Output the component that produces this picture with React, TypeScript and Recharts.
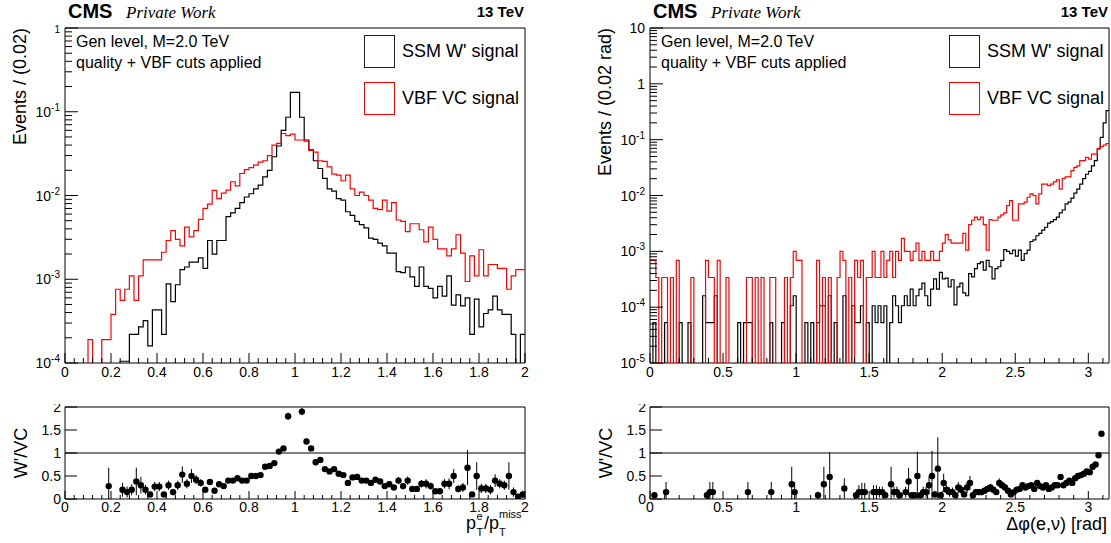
import React from 'react';
import {
  ComposedChart,
  Line,
  Scatter,
  ErrorBar,
  XAxis,
  YAxis,
  ReferenceArea,
  ReferenceLine,
  Legend,
} from 'recharts';

const FONT = '"Liberation Sans", Arial, Helvetica, sans-serif';
const SERIF = '"Liberation Serif", "Times New Roman", serif';

// ---- p_T^e / p_T^miss : 100 bins of 0.02 on [0, 2] ----
const ptBinWidth = 0.02;
const ptSsm = [
  0, 0, 0, 0, 0, 0, 0, 0, 0, 0,
  0, 0, 1.05e-4, 1.05e-4, 2.2e-4, 2.2e-4, 2.7e-4, 3.2e-4, 1.6e-4, 4.3e-4,
  4.3e-4, 2.2e-4, 8.8e-4, 5.4e-4, 8.6e-4, 1.3e-3, 1.4e-3, 1.6e-3, 1.6e-3, 1.8e-3,
  1.35e-3, 2.9e-3, 2.0e-3, 2.9e-3, 2.9e-3, 5.6e-3, 6.2e-3, 7.0e-3, 8.2e-3, 9.6e-3,
  1.05e-2, 1.2e-2, 1.33e-2, 1.67e-2, 2.0e-2, 2.9e-2, 3.9e-2, 6.0e-2, 8.6e-2, 0.17,
  0.17, 8.6e-2, 4.6e-2, 3.5e-2, 2.6e-2, 2.1e-2, 1.6e-2, 1.2e-2, 1.13e-2, 9.2e-3,
  8.8e-3, 6.4e-3, 5.8e-3, 4.9e-3, 4.5e-3, 4.1e-3, 3.1e-3, 3.0e-3, 2.7e-3, 2.5e-3,
  2.05e-3, 2.05e-3, 1.23e-3, 1.2e-3, 1.4e-3, 1.07e-3, 8.2e-4, 1.4e-3, 8.2e-4, 7.8e-4,
  6.0e-4, 8.2e-4, 6.3e-4, 1.1e-3, 4.9e-4, 6.5e-4, 4.8e-4, 6.0e-4, 2.2e-4, 5.8e-4,
  2.7e-4, 3.9e-4, 4.3e-4, 6.3e-4, 4.3e-4, 3.8e-4, 3.8e-4, 2.2e-4, 0, 2.2e-4,
];
const ptVc = [
  0, 0, 0, 0, 0, 1.9e-4, 0, 0, 1.9e-4, 1.9e-4,
  3.8e-4, 7.6e-4, 5.6e-4, 7.6e-4, 1.1e-3, 5.6e-4, 1.1e-3, 1.7e-3, 1.7e-3, 1.7e-3,
  1.7e-3, 2.1e-3, 2.9e-3, 3.8e-3, 3.0e-3, 2.5e-3, 4.2e-3, 3.2e-3, 3.8e-3, 5.2e-3,
  7.0e-3, 7.9e-3, 1.15e-2, 9.2e-3, 1.07e-2, 1.16e-2, 1.46e-2, 1.3e-2, 1.83e-2, 2.04e-2,
  2.15e-2, 2.3e-2, 2.5e-2, 2.6e-2, 3.0e-2, 4.0e-2, 4.2e-2, 5.5e-2, 5.2e-2, 5.4e-2,
  4.6e-2, 4.6e-2, 4.45e-2, 3.45e-2, 3.3e-2, 2.6e-2, 2.55e-2, 2.2e-2, 1.8e-2, 1.75e-2,
  1.5e-2, 1.75e-2, 1.2e-2, 1.0e-2, 1.1e-2, 1.0e-2, 8.8e-3, 7.0e-3, 6.8e-3, 8.8e-3,
  6.5e-3, 8.2e-3, 5.1e-3, 4.9e-3, 3.7e-3, 4.6e-3, 4.6e-3, 3.9e-3, 2.8e-3, 4.2e-3,
  3.0e-3, 2.3e-3, 2.3e-3, 1.9e-3, 2.3e-3, 3.4e-3, 2.05e-3, 9.4e-4, 1.9e-3, 1.1e-3,
  2.25e-3, 1.1e-3, 1.5e-3, 1.5e-3, 1.35e-3, 1.35e-3, 7.6e-4, 1.1e-3, 1.3e-3, 1.3e-3,
];
const ptRatioX = [
  0.19, 0.25, 0.27, 0.29, 0.31, 0.33, 0.35, 0.37, 0.39, 0.41,
  0.43, 0.45, 0.47, 0.49, 0.51, 0.53, 0.55, 0.57, 0.59, 0.61,
  0.63, 0.65, 0.67, 0.69, 0.71, 0.73, 0.75, 0.77, 0.79, 0.81,
  0.83, 0.85, 0.87, 0.89, 0.91, 0.93, 0.95, 0.97,
  1.03, 1.05, 1.07, 1.09, 1.11, 1.13, 1.15, 1.17, 1.19, 1.21,
  1.23, 1.25, 1.27, 1.29, 1.31, 1.33, 1.35, 1.37, 1.39, 1.41,
  1.43, 1.45, 1.47, 1.49, 1.51, 1.53, 1.55, 1.57, 1.59, 1.61,
  1.63, 1.65, 1.67, 1.69, 1.71, 1.73, 1.75, 1.77, 1.79, 1.81,
  1.83, 1.85, 1.87, 1.89, 1.91, 1.93, 1.95, 1.97, 1.99,
];
const ptRatio = [
  0.28, 0.2, 0.15, 0.2, 0.38, 0.3, 0.2, 0.1, 0.27, 0.27,
  0.1, 0.3, 0.15, 0.3, 0.53, 0.33, 0.5, 0.42, 0.35, 0.2,
  0.37, 0.18, 0.32, 0.28, 0.4, 0.4, 0.45, 0.4, 0.4, 0.5,
  0.5, 0.52, 0.7, 0.72, 0.78, 1.03, 1.1, 1.8,
  1.9, 1.25, 1.1, 0.8, 0.85, 0.65, 0.6, 0.65, 0.55, 0.52,
  0.35, 0.47, 0.48, 0.4, 0.4, 0.35, 0.42, 0.38, 0.28, 0.32,
  0.25, 0.4, 0.28, 0.4, 0.22, 0.22, 0.33, 0.33, 0.28, 0.17,
  0.17, 0.33, 0.33, 0.5, 0.22, 0.25, 0.68, 0.1, 0.5, 0.23,
  0.23, 0.2, 0.4, 0.33, 0.3, 0.5, 0.15, 0.05, 0.1,
];
const ptRatioErr = [
  0.4, 0.15, 0.12, 0.12, 0.3, 0.18, 0.1, 0.06, 0.1, 0.1,
  0.05, 0.1, 0.07, 0.1, 0.18, 0.1, 0.15, 0.1, 0.08, 0.05,
  0.06, 0.05, 0.06, 0.05, 0.05, 0.05, 0.05, 0.04, 0.04, 0.04,
  0.04, 0.04, 0.04, 0.04, 0.04, 0.04, 0.04, 0.08,
  0.08, 0.06, 0.05, 0.05, 0.05, 0.04, 0.04, 0.04, 0.04, 0.04,
  0.04, 0.05, 0.05, 0.05, 0.05, 0.05, 0.06, 0.06, 0.05, 0.06,
  0.05, 0.08, 0.07, 0.09, 0.06, 0.06, 0.08, 0.1, 0.08, 0.06,
  0.06, 0.1, 0.12, 0.15, 0.08, 0.1, 0.38, 0.05, 0.3, 0.1,
  0.1, 0.1, 0.14, 0.1, 0.1, 0.3, 0.1, 0.04, 0.08,
];

// ---- delta phi(e, nu) : 157 bins on [0, pi] ----
const dphiBinWidth = Math.PI / 157;
const dphiSsm = [
  0, 5.3e-5, 0, 0, 0, 5.3e-5, 0, 0, 0, 0,
  5.3e-5, 0, 0, 5.3e-5, 0, 0, 0, 0, 1.6e-4, 5.3e-5,
  5.3e-5, 5.3e-5, 1.6e-4, 0, 0, 0, 0, 0, 0, 0,
  5.3e-5, 0, 5.3e-5, 5.3e-5, 5.3e-5, 0, 0, 0, 0, 0,
  0, 5.3e-5, 0, 0, 0, 5.3e-5, 0, 0, 1.06e-4, 1.6e-4,
  0, 0, 0, 5.3e-5, 0, 5.3e-5, 0, 5.3e-5, 1.06e-4, 1.06e-4,
  0, 1.6e-4, 0, 5.3e-5, 0, 0, 1.6e-4, 0, 0, 1.06e-4,
  5.3e-5, 5.3e-5, 1.06e-4, 0, 5.3e-5, 0, 1.06e-4, 5.3e-5, 1.06e-4, 5.3e-5,
  1.06e-4, 0, 5.3e-5, 1.6e-4, 1.06e-4, 5.3e-5, 1.06e-4, 1.6e-4, 1.06e-4, 2.1e-4,
  1.06e-4, 1.6e-4, 2.1e-4, 2.7e-4, 1.6e-4, 1.06e-4, 2.1e-4, 3.2e-4, 2.1e-4, 4.2e-4,
  3.2e-4, 3.3e-4, 2.3e-4, 3.1e-4, 1.1e-4, 2.3e-4, 2.7e-4, 1.8e-4, 1.6e-4, 4.0e-4,
  3.5e-4, 4.9e-4, 6.0e-4, 6.5e-4, 4.6e-4, 6.9e-4, 5.3e-4, 3.2e-4, 4.9e-4, 5.3e-4,
  6.9e-4, 1.07e-3, 1.0e-3, 9.1e-4, 1.05e-3, 8.2e-4, 1.05e-3, 6.9e-4, 9.1e-4, 1.05e-3,
  1.5e-3, 1.6e-3, 1.9e-3, 2.1e-3, 2.4e-3, 2.7e-3, 3.2e-3, 3.4e-3, 3.7e-3, 4.1e-3,
  4.9e-3, 5.5e-3, 7.1e-3, 7.6e-3, 9.0e-3, 1.1e-2, 1.3e-2, 1.6e-2, 2.0e-2, 2.4e-2,
  2.7e-2, 3.4e-2, 4.2e-2, 6.8e-2, 0.11, 0.2, 0.33,
];
const dphiVc = [
  6.9e-4, 6.9e-4, 3.4e-4, 0, 3.4e-4, 3.4e-4, 0, 3.4e-4, 0, 6.9e-4,
  0, 0, 0, 0, 3.4e-4, 0, 0, 0, 0, 6.9e-4,
  3.4e-4, 3.4e-4, 0, 6.9e-4, 0, 0, 3.4e-4, 0, 0, 0,
  0, 0, 0, 3.4e-4, 3.4e-4, 0, 3.4e-4, 0, 3.4e-4, 0,
  0, 3.4e-4, 3.4e-4, 0, 0, 0, 3.4e-4, 0, 3.4e-4, 1.0e-3,
  6.9e-4, 6.9e-4, 0, 0, 0, 0, 0, 6.9e-4, 0, 3.4e-4,
  0, 3.4e-4, 0, 0, 3.4e-4, 1.0e-3, 6.9e-4, 0, 3.4e-4, 0,
  6.9e-4, 3.4e-4, 6.9e-4, 0, 3.4e-4, 3.4e-4, 1.0e-3, 3.4e-4, 3.4e-4, 1.0e-3,
  3.4e-4, 6.9e-4, 1.0e-3, 3.4e-4, 1.0e-3, 6.9e-4, 1.7e-3, 1.0e-3, 1.0e-3, 6.9e-4,
  1.0e-3, 1.4e-3, 6.9e-4, 1.0e-3, 6.9e-4, 6.9e-4, 1.0e-3, 6.9e-4, 6.9e-4, 1.0e-3,
  1.4e-3, 2.0e-3, 1.6e-3, 1.4e-3, 1.4e-3, 1.4e-3, 1.4e-3, 2.1e-3, 1.05e-3, 3.0e-3,
  3.6e-3, 4.1e-3, 3.7e-3, 4.1e-3, 3.0e-3, 1.05e-3, 3.7e-3, 3.6e-3, 3.6e-3, 4.1e-3,
  4.5e-3, 4.9e-3, 6.6e-3, 8.1e-3, 3.6e-3, 3.6e-3, 7.1e-3, 7.1e-3, 7.6e-3, 9.3e-3,
  1.07e-2, 1.0e-2, 7.1e-3, 1.07e-2, 1.6e-2, 1.6e-2, 1.5e-2, 1.6e-2, 1.75e-2, 1.9e-2,
  1.3e-2, 2.0e-2, 2.15e-2, 2.15e-2, 2.8e-2, 3.2e-2, 3.4e-2, 4.2e-2, 4.2e-2, 4.8e-2,
  4.5e-2, 5.5e-2, 5.5e-2, 7.0e-2, 7.5e-2, 8.0e-2, 8.5e-2,
];
const dphiRatioX = [
  0.03, 0.11, 0.39, 0.41, 0.43, 0.67, 0.83, 0.97, 0.99, 1.15,
  1.19, 1.23, 1.33, 1.41, 1.43, 1.45, 1.47, 1.53, 1.55, 1.57,
  1.59, 1.61, 1.65, 1.67, 1.69, 1.71, 1.75, 1.77, 1.79, 1.81,
  1.83, 1.85, 1.87, 1.89, 1.91, 1.93, 1.95, 1.97, 1.99,
  2.01, 2.03, 2.05, 2.07, 2.09, 2.11, 2.13, 2.15, 2.17, 2.19,
  2.21, 2.23, 2.25, 2.27, 2.29, 2.31, 2.33, 2.35, 2.37, 2.39,
  2.41, 2.43, 2.45, 2.47, 2.49, 2.51, 2.53, 2.55, 2.57, 2.59,
  2.61, 2.63, 2.65, 2.67, 2.69, 2.71, 2.73, 2.75, 2.77, 2.79,
  2.81, 2.83, 2.85, 2.87, 2.89, 2.91, 2.93, 2.95, 2.97, 2.99,
  3.01, 3.03, 3.05, 3.07, 3.09,
];
const dphiRatio = [
  0.08, 0.15, 0.08, 0.15, 0.15, 0.15, 0.15, 0.32, 0.15, 0.08,
  0.32, 0.48, 0.23, 0.08, 0.15, 0.15, 0.15, 0.15, 0.15, 0.15,
  0.15, 0.08, 0.32, 0.15, 0.15, 0.08, 0.15, 0.38, 0.08, 0.08,
  0.5, 0.08, 0.15, 0.15, 0.3, 0.5, 0.1, 0.66, 0.08,
  0.35, 0.2, 0.15, 0.15, 0.08, 0.25, 0.2, 0.1, 0.25, 0.35,
  0.08, 0.15, 0.15, 0.15, 0.18, 0.22, 0.25, 0.2, 0.15, 0.35,
  0.3, 0.25, 0.18, 0.1, 0.15, 0.2, 0.22, 0.3, 0.25, 0.28,
  0.3, 0.22, 0.35, 0.28, 0.25, 0.3, 0.22, 0.25, 0.3, 0.3,
  0.48, 0.3, 0.35, 0.4, 0.35, 0.45, 0.5, 0.52, 0.55, 0.6,
  0.58, 0.7, 0.75, 0.95, 1.42,
];
const dphiRatioErr = [
  0.07, 0.22, 0.08, 0.22, 0.22, 0.22, 0.22, 0.38, 0.22, 0.08,
  0.38, 0.54, 0.22, 0.08, 0.15, 0.2, 0.2, 0.15, 0.15, 0.12,
  0.12, 0.06, 0.38, 0.12, 0.12, 0.06, 0.12, 0.3, 0.06, 0.06,
  0.53, 0.06, 0.12, 0.12, 0.2, 0.55, 0.08, 0.68, 0.06,
  0.2, 0.1, 0.1, 0.1, 0.06, 0.12, 0.1, 0.06, 0.12, 0.15,
  0.05, 0.07, 0.07, 0.07, 0.07, 0.07, 0.08, 0.07, 0.06, 0.1,
  0.08, 0.07, 0.05, 0.04, 0.05, 0.05, 0.05, 0.06, 0.05, 0.05,
  0.05, 0.04, 0.05, 0.04, 0.04, 0.04, 0.03, 0.03, 0.03, 0.03,
  0.05, 0.03, 0.03, 0.03, 0.03, 0.03, 0.03, 0.03, 0.03, 0.03,
  0.03, 0.03, 0.03, 0.03, 0.05,
];

// ---- axis ticks ----
const ptMajorTicks = [0, 0.2, 0.4, 0.6, 0.8, 1, 1.2, 1.4, 1.6, 1.8, 2];
const dphiMajorTicks = [0, 0.5, 1, 1.5, 2, 2.5, 3];
const ratioTicks = [0, 0.5, 1, 1.5, 2];
const ptDecades = [-4, -3, -2, -1, 0];
const dphiDecades = [-5, -4, -3, -2, -1, 0, 1];

const HIST_FLOOR = 1e-9; // empty bins drop below the log axis (clipped)
const SSM_NAME = "SSM W' signal";
const VC_NAME = 'VBF VC signal';

function minorTicks(step: number, count: number, every: number) {
  const out: number[] = [];
  for (let k = 1; k < count; k++) if (k % every !== 0) out.push(Number((k * step).toFixed(3)));
  return out;
}

function logTicks(decades: number[]) {
  const out: number[] = [];
  decades.forEach((e, i) => {
    out.push(Math.pow(10, e));
    if (i < decades.length - 1) for (let m = 2; m <= 9; m++) out.push(m * Math.pow(10, e));
  });
  return out;
}

function histRows(width: number, ssm: number[], vc: number[]) {
  const lift = (v: number) => (v > 0 ? v : HIST_FLOOR);
  const rows = ssm.map((v, i) => ({ x: i * width, ssm: lift(v), vc: lift(vc[i]) }));
  const n = ssm.length;
  rows.push({ x: n * width, ssm: lift(ssm[n - 1]), vc: lift(vc[n - 1]) });
  return rows;
}

// error bars are cut at the bottom of the frame, as in the original
function ratioRows(xs: number[], rs: number[], errs: number[]) {
  return xs.map((x, i) => ({ x, r: rs[i], err: [Math.min(errs[i], rs[i]), errs[i]] }));
}

const isMajor = (majors: number[], v: number) => majors.some((m) => Math.abs(m - v) < 1e-6);

const makeXTick = (majors: number[], majorLen: number, minorLen: number, labelDy: number) =>
  function XTick(props: any) {
    const { x, y, payload } = props;
    const v: number = payload.value;
    const major = isMajor(majors, v);
    return (
      <g>
        <line x1={x} x2={x} y1={y} y2={y - (major ? majorLen : minorLen)} stroke="#000" strokeWidth={1} />
        {major && (
          <text x={x} y={y + labelDy} textAnchor="middle" fontFamily={FONT} fontSize={14} fill="#000">
            {String(v)}
          </text>
        )}
      </g>
    );
  };

const makeLogTick = (smallOne: boolean) =>
  function LogTick(props: any) {
    const { x, y, payload } = props;
    const lg = Math.log10(payload.value);
    const e = Math.round(lg);
    const major = Math.abs(lg - e) < 1e-6;
    return (
      <g>
        <line x1={x} x2={x + (major ? 13 : 7)} y1={y} y2={y} stroke="#000" strokeWidth={1} />
        {major && (
          <text
            x={x - 5}
            y={y + 5}
            textAnchor="end"
            fontFamily={FONT}
            fontSize={e === 0 && smallOne ? 10 : 14}
            fill="#000"
          >
            {e === 0 ? '1' : e === 1 ? '10' : (
              <>
                10<tspan dy={-6} fontSize={10}>{String(e)}</tspan>
              </>
            )}
          </text>
        )}
      </g>
    );
  };

function RatioYTick(props: any) {
  const { x, y, payload } = props;
  return (
    <g>
      <line x1={x} x2={x + 12} y1={y} y2={y} stroke="#000" strokeWidth={1} />
      <text x={x - 4} y={y + 5} textAnchor="end" fontFamily={FONT} fontSize={14} fill="#000">
        {String(payload.value)}
      </text>
    </g>
  );
}

function BoxLegend(props: any) {
  const items = props.payload ?? [];
  return (
    <div>
      {items.map((it: any, i: number) => (
        <div key={i} style={{ display: 'flex', alignItems: 'center', height: 33, marginBottom: 14 }}>
          <div
            style={{
              width: 31,
              height: 33,
              boxSizing: 'border-box',
              border: `1.5px solid ${it.color === '#000' ? '#222' : it.color}`,
            }}
          />
          <span style={{ marginLeft: 7, fontFamily: FONT, fontSize: 18, color: '#000', whiteSpace: 'nowrap' }}>
            {it.value}
          </span>
        </div>
      ))}
    </div>
  );
}

const Marker = (props: any) => <circle cx={props.cx} cy={props.cy} r={3.2} fill="#000" />;

type HistProps = {
  left: number;
  width: number;
  marginLeft: number;
  marginRight: number;
  rows: { x: number; ssm: number; vc: number }[];
  xMax: number;
  xTicks: number[];
  xMajors: number[];
  decades: number[];
  smallOne: boolean;
  legendLeft: number;
};

// axes get a 1px band (a 0px axis is not drawn at all), margins absorb it
function HistPanel(p: HistProps) {
  const yMin = Math.pow(10, p.decades[0]);
  const yMax = Math.pow(10, p.decades[p.decades.length - 1]);
  return (
    <div style={{ position: 'absolute', left: p.left, top: 0, width: p.width, height: 400 }}>
      <ComposedChart
        width={p.width}
        height={400}
        data={p.rows}
        margin={{ top: 28, right: p.marginRight, bottom: 36, left: p.marginLeft - 1 }}
      >
        <XAxis
          dataKey="x"
          type="number"
          domain={[0, p.xMax]}
          allowDataOverflow
          ticks={p.xTicks}
          interval={0}
          height={1}
          tickSize={0}
          tickMargin={0}
          axisLine={false}
          tickLine={false}
          tick={makeXTick(p.xMajors, 10, 5, 14)}
        />
        <YAxis
          type="number"
          scale="log"
          domain={[yMin, yMax]}
          allowDataOverflow
          ticks={logTicks(p.decades)}
          interval={0}
          width={1}
          tickSize={0}
          tickMargin={0}
          axisLine={false}
          tickLine={false}
          tick={makeLogTick(p.smallOne)}
        />
        <ReferenceArea x1={0} x2={p.xMax} y1={yMin} y2={yMax} fill="none" stroke="#000" strokeWidth={1} ifOverflow="visible" />
        <Line
          type="stepAfter"
          dataKey="ssm"
          name={SSM_NAME}
          stroke="#000"
          strokeWidth={1.2}
          dot={false}
          activeDot={false}
          isAnimationActive={false}
        />
        <Line
          type="stepAfter"
          dataKey="vc"
          name={VC_NAME}
          stroke="#ff0000"
          strokeWidth={1.2}
          dot={false}
          activeDot={false}
          isAnimationActive={false}
        />
        <Legend
          layout="vertical"
          align="center"
          verticalAlign="middle"
          wrapperStyle={{ top: 35, left: p.legendLeft, width: 175 }}
          content={BoxLegend}
        />
      </ComposedChart>
    </div>
  );
}

type RatioProps = {
  left: number;
  width: number;
  marginLeft: number;
  marginRight: number;
  rows: { x: number; r: number; err: number[] }[];
  xMax: number;
  xTicks: number[];
  xMajors: number[];
};

function RatioPanel(p: RatioProps) {
  return (
    <div style={{ position: 'absolute', left: p.left, top: 404, width: p.width, height: 139, overflow: 'hidden' }}>
      <ComposedChart
        width={p.width}
        height={139}
        data={p.rows}
        margin={{ top: 3, right: p.marginRight, bottom: 43, left: p.marginLeft - 1 }}
      >
        <XAxis
          dataKey="x"
          type="number"
          domain={[0, p.xMax]}
          allowDataOverflow
          ticks={p.xTicks}
          interval={0}
          height={1}
          tickSize={0}
          tickMargin={0}
          axisLine={false}
          tickLine={false}
          tick={makeXTick(p.xMajors, 8, 4, 13)}
        />
        <YAxis
          type="number"
          domain={[0, 2]}
          allowDataOverflow
          ticks={ratioTicks}
          interval={0}
          width={1}
          tickSize={0}
          tickMargin={0}
          axisLine={false}
          tickLine={false}
          tick={RatioYTick}
        />
        <ReferenceArea x1={0} x2={p.xMax} y1={0} y2={2} fill="none" stroke="#000" strokeWidth={1} ifOverflow="visible" />
        <ReferenceLine y={1} stroke="#000" strokeWidth={1} />
        <Scatter dataKey="r" fill="#000" shape={Marker} isAnimationActive={false}>
          <ErrorBar dataKey="err" direction="y" width={0} stroke="#000" strokeWidth={1} isAnimationActive={false} />
        </Scatter>
      </ComposedChart>
    </div>
  );
}

function Annotations() {
  const header = (x0: number, xEnd: number) => (
    <>
      <text x={x0} y={18} fontFamily={FONT} fontWeight="bold" fontSize={20} fill="#000">CMS</text>
      <text x={x0 + 58} y={18} fontFamily={SERIF} fontStyle="italic" fontSize={17} fill="#000">Private Work</text>
      <text x={xEnd} y={17} textAnchor="end" fontFamily={FONT} fontWeight="bold" fontSize={15} fill="#000">13 TeV</text>
      <text x={x0 + 8} y={47} fontFamily={FONT} fontSize={16} fill="#000">Gen level, M=2.0 TeV</text>
      <text x={x0 + 8} y={68} fontFamily={FONT} fontSize={16} fill="#000">quality + VBF cuts applied</text>
    </>
  );
  return (
    <svg width={1111} height={543} style={{ position: 'absolute', left: 0, top: 0, pointerEvents: 'none' }}>
      {header(68, 524)}
      {header(653, 1108)}
      <text transform="translate(26,28) rotate(-90)" textAnchor="end" fontFamily={FONT} fontSize={18} fill="#000">
        Events / (0.02)
      </text>
      <text transform="translate(611,28) rotate(-90)" textAnchor="end" fontFamily={FONT} fontSize={18} fill="#000">
        Events / (0.02 rad)
      </text>
      <text transform="translate(27,453) rotate(-90)" textAnchor="middle" fontFamily={FONT} fontSize={18} fill="#000">
        W'/VC
      </text>
      <text transform="translate(612,453) rotate(-90)" textAnchor="middle" fontFamily={FONT} fontSize={18} fill="#000">
        W'/VC
      </text>
      <text fontFamily={FONT} fill="#000">
        <tspan x={466} y={529} fontSize={18}>p</tspan>
        <tspan x={476.5} y={520} fontSize={11}>e</tspan>
        <tspan x={476.5} y={536} fontSize={11}>T</tspan>
        <tspan x={484} y={529} fontSize={18}>/</tspan>
        <tspan x={489} y={529} fontSize={18}>p</tspan>
        <tspan x={499} y={518} fontSize={11}>miss</tspan>
        <tspan x={499} y={536} fontSize={11}>T</tspan>
      </text>
      <text x={1107} y={530} textAnchor="end" fontFamily={FONT} fontSize={18} fill="#000">
        Δφ(e,ν) [rad]
      </text>
    </svg>
  );
}

export default function App() {
  const ptRows = histRows(ptBinWidth, ptSsm, ptVc);
  const dphiRows = histRows(dphiBinWidth, dphiSsm, dphiVc);
  const ptTicks = [...ptMajorTicks, ...minorTicks(0.04, 50, 5)];
  const dphiTicks = [...dphiMajorTicks, ...minorTicks(0.1, 32, 5)];

  return (
    <div style={{ position: 'absolute', left: 0, top: 0, width: 1111, height: 543, background: '#fff', overflow: 'hidden' }}>
      <HistPanel
        left={0}
        width={545}
        marginLeft={65}
        marginRight={20}
        rows={ptRows}
        xMax={2}
        xTicks={ptTicks}
        xMajors={ptMajorTicks}
        decades={ptDecades}
        smallOne
        legendLeft={364}
      />
      <HistPanel
        left={560}
        width={551}
        marginLeft={90}
        marginRight={2}
        rows={dphiRows}
        xMax={Math.PI}
        xTicks={dphiTicks}
        xMajors={dphiMajorTicks}
        decades={dphiDecades}
        smallOne={false}
        legendLeft={389}
      />
      <RatioPanel
        left={0}
        width={545}
        marginLeft={65}
        marginRight={20}
        rows={ratioRows(ptRatioX, ptRatio, ptRatioErr)}
        xMax={2}
        xTicks={ptTicks}
        xMajors={ptMajorTicks}
      />
      <RatioPanel
        left={560}
        width={551}
        marginLeft={90}
        marginRight={2}
        rows={ratioRows(dphiRatioX, dphiRatio, dphiRatioErr)}
        xMax={Math.PI}
        xTicks={dphiTicks}
        xMajors={dphiMajorTicks}
      />
      <Annotations />
    </div>
  );
}
